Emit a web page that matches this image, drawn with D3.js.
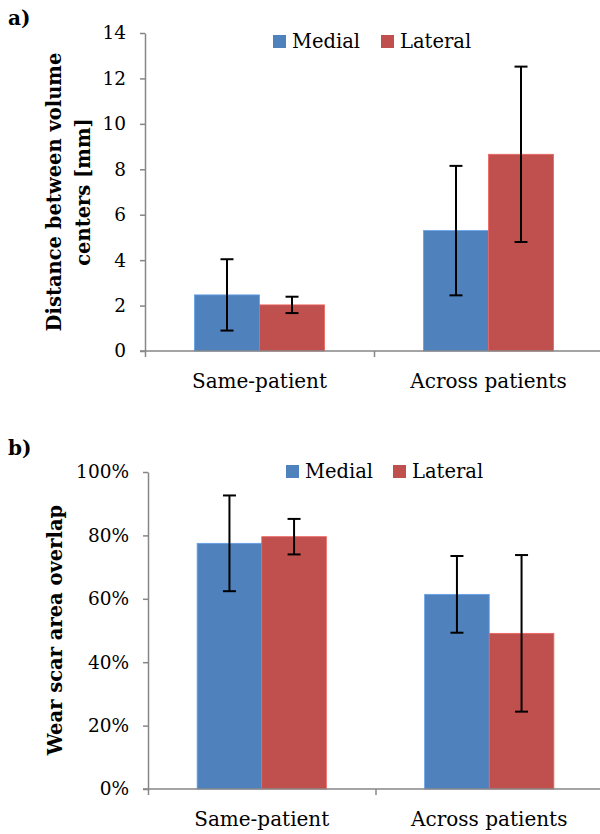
<!DOCTYPE html>
<html>
<head>
<meta charset="utf-8">
<script src="https://cdn.jsdelivr.net/npm/d3@7"></script>
<style>
  html, body { margin: 0; padding: 0; background: #fff; }
  svg { display: block; }
  text { font-family: "DejaVu Serif", "Liberation Serif", serif; fill: #000; }
</style>
</head>
<body>
<svg id="chart" width="600" height="834"></svg>
<script>
// ---- data ----
const categories = ["Same-patient", "Across patients"];
const series = ["Medial", "Lateral"];

// panel a: distance between volume centers [mm]
const distMedial = [2.47, 5.30];
const distMedialErr = [1.57, 2.85];
const distLateral = [2.03, 8.66];
const distLateralErr = [0.36, 3.86];
const distTicks = [0, 2, 4, 6, 8, 10, 12, 14];

// panel b: wear scar area overlap (%)
const overlapMedial = [77.5, 61.4];
const overlapMedialErr = [15.1, 12.1];
const overlapLateral = [79.6, 49.1];
const overlapLateralErr = [5.6, 24.7];
const overlapTicks = [0, 20, 40, 60, 80, 100];

const colors = { Medial: "#4F81BD", Lateral: "#C0504D" };
const axisColor = "#868686";

const svg = d3.select("#chart");

function panel(opts) {
  const g = svg.append("g");
  const y = d3.scaleLinear().domain(opts.yDomain).range([opts.yBottom, opts.yTop]);
  const x0 = d3.scaleBand().domain(categories).range([opts.xLeft, opts.xRight]).padding(0);
  const x1 = d3.scaleBand().domain(series)
    .range([x0.bandwidth() * 0.216, x0.bandwidth() * 0.784]).padding(0);

  // bars
  const rows = [];
  categories.forEach((c, i) => {
    series.forEach(s => {
      rows.push({ c, s, v: opts.values[s][i], e: opts.errors[s][i] });
    });
  });
  g.selectAll("rect.bar").data(rows).join("rect")
    .attr("class", "bar")
    .attr("x", d => x0(d.c) + x1(d.s))
    .attr("width", x1.bandwidth())
    .attr("y", d => y(d.v))
    .attr("height", d => y(0) - y(d.v))
    .attr("fill", d => colors[d.s])
    .attr("stroke", d => d3.color(colors[d.s]).brighter(0.6))
    .attr("stroke-width", 0.8);

  // y axis
  const yAxis = d3.axisLeft(y).tickValues(opts.ticks).tickFormat(opts.fmt)
    .tickSize(5).tickSizeOuter(0).tickPadding(14);
  const ya = g.append("g").attr("transform", `translate(${opts.xLeft},0)`).call(yAxis);
  ya.select(".domain").attr("stroke", axisColor).attr("stroke-width", 1.5);
  ya.selectAll(".tick line").attr("stroke", axisColor).attr("stroke-width", 1.5);
  ya.selectAll(".tick text").style("font-size", "18.5px").attr("fill", "#000")
    .style("font-family", "DejaVu Serif");

  // x axis (category boundaries)
  const xb = d3.scaleLinear().domain([0, categories.length]).range([opts.xLeft, opts.xRight]);
  const xAxis = d3.axisBottom(xb).tickValues(d3.range(categories.length + 1))
    .tickFormat("").tickSize(6).tickSizeOuter(0);
  const xa = g.append("g").attr("transform", `translate(0,${y(0)})`).call(xAxis);
  xa.select(".domain").attr("stroke", axisColor).attr("stroke-width", 1.5)
    .attr("d", `M${opts.xLeft - 5},0H${opts.xRight}`);
  xa.selectAll(".tick line").attr("stroke", axisColor).attr("stroke-width", 1.5);

  // category labels
  g.selectAll("text.cat").data(categories).join("text")
    .attr("class", "cat")
    .attr("x", d => x0(d) + x0.bandwidth() / 2)
    .attr("y", opts.catY)
    .attr("text-anchor", "middle")
    .style("font-size", "20px")
    .text(d => d);

  // error bars
  const eb = g.selectAll("g.err").data(rows).join("g").attr("class", "err");
  const cx = d => x0(d.c) + x1(d.s) + x1.bandwidth() / 2;
  eb.append("line")
    .attr("x1", cx).attr("x2", cx)
    .attr("y1", d => y(d.v + d.e)).attr("y2", d => y(d.v - d.e))
    .attr("stroke", "#000").attr("stroke-width", 2);
  [1, -1].forEach(sign => {
    eb.append("line")
      .attr("x1", d => cx(d) - 6.5).attr("x2", d => cx(d) + 6.5)
      .attr("y1", d => y(d.v + sign * d.e)).attr("y2", d => y(d.v + sign * d.e))
      .attr("stroke", "#000").attr("stroke-width", 2);
  });

  // legend
  const lg = g.append("g");
  series.forEach((s, i) => {
    const lx = opts.legend[i];
    lg.append("rect").attr("x", lx).attr("y", opts.legendY - 13)
      .attr("width", 13).attr("height", 13).attr("fill", colors[s]);
    lg.append("text").attr("x", lx + 19).attr("y", opts.legendY)
      .style("font-size", "19.5px").text(s);
  });

  // panel label
  g.append("text").attr("x", 8).attr("y", opts.labelY)
    .style("font-size", "20px").style("font-weight", "bold").text(opts.label);

  // y title
  const t = g.append("text")
    .attr("transform", `translate(${opts.titleX},${opts.titleY}) rotate(-90)`)
    .attr("text-anchor", "middle")
    .style("font-size", "19.5px").style("font-weight", "bold");
  opts.title.forEach((line, i) => {
    t.append("tspan").attr("x", 0).attr("dy", i === 0 ? 0 : 29).text(line);
  });
}

panel({
  yDomain: [0, 14], yTop: 33, yBottom: 351, xLeft: 145, xRight: 603,
  ticks: distTicks, fmt: d3.format("d"),
  values: { Medial: distMedial, Lateral: distLateral },
  errors: { Medial: distMedialErr, Lateral: distLateralErr },
  catY: 388, legend: [273, 381], legendY: 48, label: "a)", labelY: 25,
  title: ["Distance between volume", "centers [mm]"], titleX: 61, titleY: 192
});

panel({
  yDomain: [0, 100], yTop: 472, yBottom: 789, xLeft: 148, xRight: 603,
  ticks: overlapTicks, fmt: d => d + "%",
  values: { Medial: overlapMedial, Lateral: overlapLateral },
  errors: { Medial: overlapMedialErr, Lateral: overlapLateralErr },
  catY: 826, legend: [286, 393], legendY: 478, label: "b)", labelY: 455,
  title: ["Wear scar area overlap"], titleX: 62, titleY: 630
});
</script>
</body>
</html>
